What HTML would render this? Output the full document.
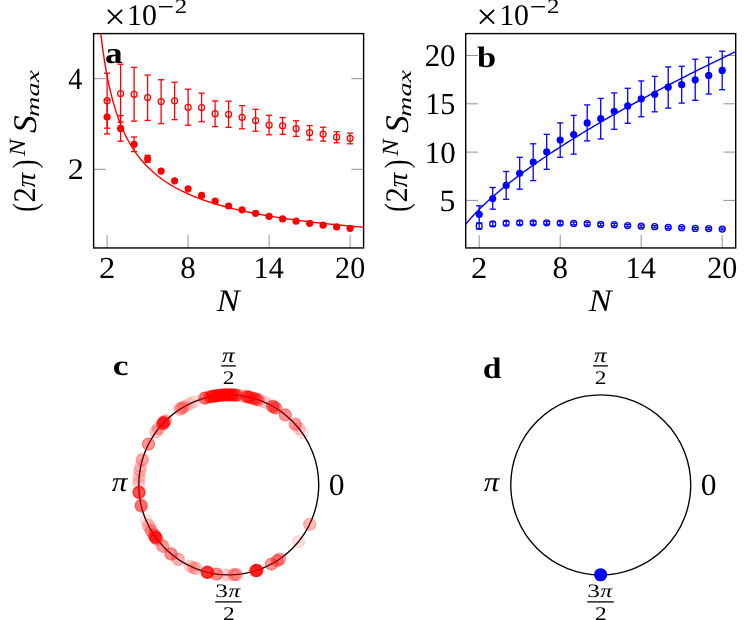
<!DOCTYPE html>
<html><head><meta charset="utf-8"><title>figure</title>
<style>html,body{margin:0;padding:0;background:#fff}svg{display:block;will-change:transform}</style>
</head><body>
<svg width="747" height="620" viewBox="0 0 747 620" font-family='"Liberation Serif", serif' fill="#000" text-rendering="geometricPrecision">
<rect width="747" height="620" fill="#fff"/>
<g id="plot-a">
<line x1="93.6" y1="78.7" x2="105.9" y2="78.7" stroke="#7f7f7f" stroke-width="0.85" />
<line x1="363.6" y1="78.7" x2="351.3" y2="78.7" stroke="#7f7f7f" stroke-width="0.85" />
<line x1="93.6" y1="169.3" x2="105.9" y2="169.3" stroke="#7f7f7f" stroke-width="0.85" />
<line x1="363.6" y1="169.3" x2="351.3" y2="169.3" stroke="#7f7f7f" stroke-width="0.85" />
<line x1="107.1" y1="247.95" x2="107.1" y2="235.15" stroke="#7f7f7f" stroke-width="0.85" />
<line x1="188.1" y1="247.95" x2="188.1" y2="235.15" stroke="#7f7f7f" stroke-width="0.85" />
<line x1="269.1" y1="247.95" x2="269.1" y2="235.15" stroke="#7f7f7f" stroke-width="0.85" />
<line x1="350.1" y1="247.95" x2="350.1" y2="235.15" stroke="#7f7f7f" stroke-width="0.85" />
<rect x="93.6" y="33.6" width="270" height="214.35" fill="none" stroke="#000" stroke-width="1.4"/>
<text transform="translate(98.89 278.1) scale(1.0871 1.0176)" font-size="30">2</text>
<text transform="translate(180.31 278.39) scale(1.0315 1.0370)" font-size="30">8</text>
<text transform="translate(253.52 278.1) scale(1.0112 1.0202)" font-size="30">14</text>
<text transform="translate(335.1 278.29) scale(1.0018 1.0321)" font-size="30">20</text>
<text transform="translate(216.73 310.9) scale(1.1435 1.0483)" font-size="30" font-style="italic">N</text>
<text transform="translate(104.16 28.53) scale(1.2675 1.2295)" font-size="30">×</text>
<text transform="translate(127.06 24.6) scale(0.9962 1.0025)" font-size="30">10</text>
<text transform="translate(157.53 16.49) scale(0.9821 0.9333)" font-size="30">−</text>
<text transform="translate(174.82 13.2) scale(0.8299 0.6851)" font-size="30">2</text>
<g transform="translate(35.3 210.6) rotate(-90)">
<text transform="translate(-1.11 0.58) scale(0.8571 1.1365)" font-size="30">(</text>
<text transform="translate(8.17 0) scale(1.0207 1.0479)" font-size="30">2</text>
<text transform="translate(23.15 -0.28) scale(0.9775 0.9395)" font-size="30" font-style="italic">π</text>
<text transform="translate(42.27 0.55) scale(0.8701 1.1324)" font-size="30">)</text>
<text transform="translate(54.67 -9.9) scale(0.8380 0.7735)" font-size="30" font-style="italic">N</text>
<text transform="translate(77.59 0.37) scale(1.1802 1.1017)" font-size="30" font-style="italic">S</text>
<text transform="translate(93.67 4.01) scale(0.9394 0.6228)" font-size="30" font-style="italic">max</text>
</g>
<text transform="translate(68.34 88.6) scale(0.9391 1.0228)" font-size="30">4</text>
<text transform="translate(67.71 178.9) scale(1.0705 0.9924)" font-size="30">2</text>
<text transform="translate(104.88 63) scale(1.1765 1.0000)" font-size="30" font-weight="bold">a</text>
<clipPath id="ca"><rect x="93.6" y="33.6" width="270" height="214.35"/></clipPath>
<g clip-path="url(#ca)">
<path d="M99.67 23.62 L100.78 33.61 L101.89 42.64 L103 50.84 L104.1 58.34 L105.21 65.22 L106.32 71.56 L107.42 77.43 L108.53 82.87 L109.64 87.94 L110.75 92.67 L111.85 97.1 L112.96 101.26 L114.07 105.17 L115.17 108.86 L116.28 112.34 L117.39 115.63 L118.5 118.76 L119.6 121.73 L120.71 124.55 L121.82 127.23 L122.92 129.79 L124.03 132.24 L125.14 134.58 L126.25 136.82 L127.35 138.96 L128.46 141.02 L129.57 142.99 L130.67 144.89 L131.78 146.72 L132.89 148.47 L134 150.17 L135.1 151.8 L136.21 153.38 L137.32 154.9 L138.42 156.37 L139.53 157.79 L140.64 159.17 L141.75 160.5 L142.85 161.79 L143.96 163.04 L145.07 164.26 L146.17 165.44 L147.28 166.58 L148.39 167.69 L149.5 168.77 L150.6 169.82 L151.71 170.85 L152.82 171.84 L153.92 172.81 L155.03 173.75 L156.14 174.67 L157.24 175.57 L158.35 176.44 L159.46 177.29 L160.57 178.13 L161.67 178.94 L162.78 179.73 L163.89 180.51 L164.99 181.27 L166.1 182.01 L167.21 182.73 L168.32 183.44 L169.42 184.13 L170.53 184.81 L171.64 185.47 L172.74 186.12 L173.85 186.76 L174.96 187.38 L176.07 187.99 L177.17 188.59 L178.28 189.18 L179.39 189.75 L180.49 190.32 L181.6 190.87 L182.71 191.42 L183.82 191.95 L184.92 192.47 L186.03 192.99 L187.14 193.49 L188.24 193.99 L189.35 194.48 L190.46 194.95 L191.57 195.42 L192.67 195.89 L193.78 196.34 L194.89 196.79 L195.99 197.23 L197.1 197.66 L198.21 198.09 L199.32 198.5 L200.42 198.92 L201.53 199.32 L202.64 199.72 L203.74 200.11 L204.85 200.5 L205.96 200.88 L207.06 201.26 L208.17 201.62 L209.28 201.99 L210.39 202.35 L211.49 202.7 L212.6 203.05 L213.71 203.39 L214.81 203.73 L215.92 204.06 L217.03 204.39 L218.14 204.72 L219.24 205.04 L220.35 205.35 L221.46 205.66 L222.56 205.97 L223.67 206.27 L224.78 206.57 L225.89 206.87 L226.99 207.16 L228.1 207.45 L229.21 207.73 L230.31 208.01 L231.42 208.29 L232.53 208.56 L233.64 208.83 L234.74 209.1 L235.85 209.36 L236.96 209.62 L238.06 209.88 L239.17 210.13 L240.28 210.38 L241.39 210.63 L242.49 210.87 L243.6 211.11 L244.71 211.35 L245.81 211.59 L246.92 211.82 L248.03 212.05 L249.14 212.28 L250.24 212.51 L251.35 212.73 L252.46 212.95 L253.56 213.17 L254.67 213.39 L255.78 213.6 L256.89 213.81 L257.99 214.02 L259.1 214.23 L260.21 214.43 L261.31 214.64 L262.42 214.84 L263.53 215.03 L264.63 215.23 L265.74 215.42 L266.85 215.62 L267.96 215.81 L269.06 216 L270.17 216.18 L271.28 216.37 L272.38 216.55 L273.49 216.73 L274.6 216.91 L275.71 217.09 L276.81 217.26 L277.92 217.44 L279.03 217.61 L280.13 217.78 L281.24 217.95 L282.35 218.12 L283.46 218.28 L284.56 218.45 L285.67 218.61 L286.78 218.77 L287.88 218.93 L288.99 219.09 L290.1 219.25 L291.21 219.4 L292.31 219.56 L293.42 219.71 L294.53 219.86 L295.63 220.01 L296.74 220.16 L297.85 220.31 L298.96 220.45 L300.06 220.6 L301.17 220.74 L302.28 220.88 L303.38 221.03 L304.49 221.17 L305.6 221.3 L306.71 221.44 L307.81 221.58 L308.92 221.71 L310.03 221.85 L311.13 221.98 L312.24 222.11 L313.35 222.24 L314.45 222.37 L315.56 222.5 L316.67 222.63 L317.78 222.76 L318.88 222.88 L319.99 223.01 L321.1 223.13 L322.2 223.26 L323.31 223.38 L324.42 223.5 L325.53 223.62 L326.63 223.74 L327.74 223.86 L328.85 223.97 L329.95 224.09 L331.06 224.21 L332.17 224.32 L333.28 224.43 L334.38 224.55 L335.49 224.66 L336.6 224.77 L337.7 224.88 L338.81 224.99 L339.92 225.1 L341.03 225.21 L342.13 225.31 L343.24 225.42 L344.35 225.53 L345.45 225.63 L346.56 225.74 L347.67 225.84 L348.78 225.94 L349.88 226.04 L350.99 226.15 L352.1 226.25 L353.2 226.35 L354.31 226.44 L355.42 226.54 L356.53 226.64 L357.63 226.74 L358.74 226.83 L359.85 226.93 L360.95 227.03 L362.06 227.12 L363.17 227.21 L364.27 227.31" fill="none" stroke="#ff0000" stroke-width="1.4" stroke-linejoin="round"/>
</g>
<line x1="107.1" y1="73.2" x2="107.1" y2="128.2" stroke="#ff0000" stroke-width="1.3" />
<line x1="104" y1="73.2" x2="110.2" y2="73.2" stroke="#ff0000" stroke-width="1.3" />
<line x1="104" y1="128.2" x2="110.2" y2="128.2" stroke="#ff0000" stroke-width="1.3" />
<circle cx="107.1" cy="100.65" r="3.0" fill="none" stroke="#ff0000" stroke-width="1.25"/>
<line x1="120.6" y1="64.2" x2="120.6" y2="122.2" stroke="#ff0000" stroke-width="1.3" />
<line x1="117.5" y1="64.2" x2="123.7" y2="64.2" stroke="#ff0000" stroke-width="1.3" />
<line x1="117.5" y1="122.2" x2="123.7" y2="122.2" stroke="#ff0000" stroke-width="1.3" />
<circle cx="120.6" cy="93.5" r="3.0" fill="none" stroke="#ff0000" stroke-width="1.25"/>
<line x1="134.1" y1="67.4" x2="134.1" y2="121.1" stroke="#ff0000" stroke-width="1.3" />
<line x1="131" y1="67.4" x2="137.2" y2="67.4" stroke="#ff0000" stroke-width="1.3" />
<line x1="131" y1="121.1" x2="137.2" y2="121.1" stroke="#ff0000" stroke-width="1.3" />
<circle cx="134.1" cy="94.3" r="3.0" fill="none" stroke="#ff0000" stroke-width="1.25"/>
<line x1="147.6" y1="75.1" x2="147.6" y2="120.4" stroke="#ff0000" stroke-width="1.3" />
<line x1="144.5" y1="75.1" x2="150.7" y2="75.1" stroke="#ff0000" stroke-width="1.3" />
<line x1="144.5" y1="120.4" x2="150.7" y2="120.4" stroke="#ff0000" stroke-width="1.3" />
<circle cx="147.6" cy="97.6" r="3.0" fill="none" stroke="#ff0000" stroke-width="1.25"/>
<line x1="161.1" y1="79.75" x2="161.1" y2="123.6" stroke="#ff0000" stroke-width="1.3" />
<line x1="158" y1="79.75" x2="164.2" y2="79.75" stroke="#ff0000" stroke-width="1.3" />
<line x1="158" y1="123.6" x2="164.2" y2="123.6" stroke="#ff0000" stroke-width="1.3" />
<circle cx="161.1" cy="101.5" r="3.0" fill="none" stroke="#ff0000" stroke-width="1.25"/>
<line x1="174.6" y1="82.2" x2="174.6" y2="119.7" stroke="#ff0000" stroke-width="1.3" />
<line x1="171.5" y1="82.2" x2="177.7" y2="82.2" stroke="#ff0000" stroke-width="1.3" />
<line x1="171.5" y1="119.7" x2="177.7" y2="119.7" stroke="#ff0000" stroke-width="1.3" />
<circle cx="174.6" cy="100.8" r="3.0" fill="none" stroke="#ff0000" stroke-width="1.25"/>
<line x1="188.1" y1="89.2" x2="188.1" y2="125.2" stroke="#ff0000" stroke-width="1.3" />
<line x1="185" y1="89.2" x2="191.2" y2="89.2" stroke="#ff0000" stroke-width="1.3" />
<line x1="185" y1="125.2" x2="191.2" y2="125.2" stroke="#ff0000" stroke-width="1.3" />
<circle cx="188.1" cy="107.3" r="3.0" fill="none" stroke="#ff0000" stroke-width="1.25"/>
<line x1="201.6" y1="93.2" x2="201.6" y2="121.7" stroke="#ff0000" stroke-width="1.3" />
<line x1="198.5" y1="93.2" x2="204.7" y2="93.2" stroke="#ff0000" stroke-width="1.3" />
<line x1="198.5" y1="121.7" x2="204.7" y2="121.7" stroke="#ff0000" stroke-width="1.3" />
<circle cx="201.6" cy="107.6" r="3.0" fill="none" stroke="#ff0000" stroke-width="1.25"/>
<line x1="215.1" y1="100.9" x2="215.1" y2="126.6" stroke="#ff0000" stroke-width="1.3" />
<line x1="212" y1="100.9" x2="218.2" y2="100.9" stroke="#ff0000" stroke-width="1.3" />
<line x1="212" y1="126.6" x2="218.2" y2="126.6" stroke="#ff0000" stroke-width="1.3" />
<circle cx="215.1" cy="113.7" r="3.0" fill="none" stroke="#ff0000" stroke-width="1.25"/>
<line x1="228.6" y1="101.2" x2="228.6" y2="127.3" stroke="#ff0000" stroke-width="1.3" />
<line x1="225.5" y1="101.2" x2="231.7" y2="101.2" stroke="#ff0000" stroke-width="1.3" />
<line x1="225.5" y1="127.3" x2="231.7" y2="127.3" stroke="#ff0000" stroke-width="1.3" />
<circle cx="228.6" cy="114.3" r="3.0" fill="none" stroke="#ff0000" stroke-width="1.25"/>
<line x1="242.1" y1="105.6" x2="242.1" y2="128.8" stroke="#ff0000" stroke-width="1.3" />
<line x1="239" y1="105.6" x2="245.2" y2="105.6" stroke="#ff0000" stroke-width="1.3" />
<line x1="239" y1="128.8" x2="245.2" y2="128.8" stroke="#ff0000" stroke-width="1.3" />
<circle cx="242.1" cy="117.3" r="3.0" fill="none" stroke="#ff0000" stroke-width="1.25"/>
<line x1="255.6" y1="109.3" x2="255.6" y2="131.2" stroke="#ff0000" stroke-width="1.3" />
<line x1="252.5" y1="109.3" x2="258.7" y2="109.3" stroke="#ff0000" stroke-width="1.3" />
<line x1="252.5" y1="131.2" x2="258.7" y2="131.2" stroke="#ff0000" stroke-width="1.3" />
<circle cx="255.6" cy="120.5" r="3.0" fill="none" stroke="#ff0000" stroke-width="1.25"/>
<line x1="269.1" y1="115.3" x2="269.1" y2="134.8" stroke="#ff0000" stroke-width="1.3" />
<line x1="266" y1="115.3" x2="272.2" y2="115.3" stroke="#ff0000" stroke-width="1.3" />
<line x1="266" y1="134.8" x2="272.2" y2="134.8" stroke="#ff0000" stroke-width="1.3" />
<circle cx="269.1" cy="125" r="3.0" fill="none" stroke="#ff0000" stroke-width="1.25"/>
<line x1="282.6" y1="117.6" x2="282.6" y2="134.3" stroke="#ff0000" stroke-width="1.3" />
<line x1="279.5" y1="117.6" x2="285.7" y2="117.6" stroke="#ff0000" stroke-width="1.3" />
<line x1="279.5" y1="134.3" x2="285.7" y2="134.3" stroke="#ff0000" stroke-width="1.3" />
<circle cx="282.6" cy="125.8" r="3.0" fill="none" stroke="#ff0000" stroke-width="1.25"/>
<line x1="296.1" y1="120.8" x2="296.1" y2="136.4" stroke="#ff0000" stroke-width="1.3" />
<line x1="293" y1="120.8" x2="299.2" y2="120.8" stroke="#ff0000" stroke-width="1.3" />
<line x1="293" y1="136.4" x2="299.2" y2="136.4" stroke="#ff0000" stroke-width="1.3" />
<circle cx="296.1" cy="128.5" r="3.0" fill="none" stroke="#ff0000" stroke-width="1.25"/>
<line x1="309.6" y1="125.6" x2="309.6" y2="139.9" stroke="#ff0000" stroke-width="1.3" />
<line x1="306.5" y1="125.6" x2="312.7" y2="125.6" stroke="#ff0000" stroke-width="1.3" />
<line x1="306.5" y1="139.9" x2="312.7" y2="139.9" stroke="#ff0000" stroke-width="1.3" />
<circle cx="309.6" cy="132.7" r="3.0" fill="none" stroke="#ff0000" stroke-width="1.25"/>
<line x1="323.1" y1="127.2" x2="323.1" y2="141.1" stroke="#ff0000" stroke-width="1.3" />
<line x1="320" y1="127.2" x2="326.2" y2="127.2" stroke="#ff0000" stroke-width="1.3" />
<line x1="320" y1="141.1" x2="326.2" y2="141.1" stroke="#ff0000" stroke-width="1.3" />
<circle cx="323.1" cy="134" r="3.0" fill="none" stroke="#ff0000" stroke-width="1.25"/>
<line x1="336.6" y1="131.7" x2="336.6" y2="142.8" stroke="#ff0000" stroke-width="1.3" />
<line x1="333.5" y1="131.7" x2="339.7" y2="131.7" stroke="#ff0000" stroke-width="1.3" />
<line x1="333.5" y1="142.8" x2="339.7" y2="142.8" stroke="#ff0000" stroke-width="1.3" />
<circle cx="336.6" cy="137.2" r="3.0" fill="none" stroke="#ff0000" stroke-width="1.25"/>
<line x1="350.1" y1="133.1" x2="350.1" y2="143.8" stroke="#ff0000" stroke-width="1.3" />
<line x1="347" y1="133.1" x2="353.2" y2="133.1" stroke="#ff0000" stroke-width="1.3" />
<line x1="347" y1="143.8" x2="353.2" y2="143.8" stroke="#ff0000" stroke-width="1.3" />
<circle cx="350.1" cy="138.3" r="3.0" fill="none" stroke="#ff0000" stroke-width="1.25"/>
<line x1="107.1" y1="100" x2="107.1" y2="134" stroke="#ff0000" stroke-width="1.3" />
<line x1="104" y1="100" x2="110.2" y2="100" stroke="#ff0000" stroke-width="1.3" />
<line x1="104" y1="134" x2="110.2" y2="134" stroke="#ff0000" stroke-width="1.3" />
<circle cx="107.1" cy="117" r="3.6" fill="#ff0000"/>
<line x1="120.6" y1="115.6" x2="120.6" y2="141.2" stroke="#ff0000" stroke-width="1.3" />
<line x1="117.5" y1="115.6" x2="123.7" y2="115.6" stroke="#ff0000" stroke-width="1.3" />
<line x1="117.5" y1="141.2" x2="123.7" y2="141.2" stroke="#ff0000" stroke-width="1.3" />
<circle cx="120.6" cy="128.4" r="3.6" fill="#ff0000"/>
<line x1="134.1" y1="137" x2="134.1" y2="151.6" stroke="#ff0000" stroke-width="1.3" />
<line x1="131" y1="137" x2="137.2" y2="137" stroke="#ff0000" stroke-width="1.3" />
<line x1="131" y1="151.6" x2="137.2" y2="151.6" stroke="#ff0000" stroke-width="1.3" />
<circle cx="134.1" cy="144.3" r="3.6" fill="#ff0000"/>
<line x1="147.6" y1="155.3" x2="147.6" y2="162.3" stroke="#ff0000" stroke-width="1.3" />
<line x1="144.5" y1="155.3" x2="150.7" y2="155.3" stroke="#ff0000" stroke-width="1.3" />
<line x1="144.5" y1="162.3" x2="150.7" y2="162.3" stroke="#ff0000" stroke-width="1.3" />
<circle cx="147.6" cy="158.8" r="3.6" fill="#ff0000"/>
<circle cx="161.1" cy="171.1" r="3.6" fill="#ff0000"/>
<circle cx="174.6" cy="180.8" r="3.6" fill="#ff0000"/>
<circle cx="188.1" cy="188.8" r="3.6" fill="#ff0000"/>
<circle cx="201.6" cy="195.4" r="3.6" fill="#ff0000"/>
<circle cx="215.1" cy="201.2" r="3.6" fill="#ff0000"/>
<circle cx="228.6" cy="206" r="3.6" fill="#ff0000"/>
<circle cx="242.1" cy="209.8" r="3.6" fill="#ff0000"/>
<circle cx="255.6" cy="213.3" r="3.6" fill="#ff0000"/>
<circle cx="269.1" cy="216.3" r="3.6" fill="#ff0000"/>
<circle cx="282.6" cy="218.9" r="3.6" fill="#ff0000"/>
<circle cx="296.1" cy="221.2" r="3.6" fill="#ff0000"/>
<circle cx="309.6" cy="223.3" r="3.6" fill="#ff0000"/>
<circle cx="323.1" cy="225.2" r="3.6" fill="#ff0000"/>
<circle cx="336.6" cy="226.9" r="3.6" fill="#ff0000"/>
<circle cx="350.1" cy="228.3" r="3.6" fill="#ff0000"/>
</g>
<g id="plot-b">
<line x1="465.7" y1="55.5" x2="478" y2="55.5" stroke="#7f7f7f" stroke-width="0.85" />
<line x1="735.7" y1="55.5" x2="723.4" y2="55.5" stroke="#7f7f7f" stroke-width="0.85" />
<line x1="465.7" y1="103.8" x2="478" y2="103.8" stroke="#7f7f7f" stroke-width="0.85" />
<line x1="735.7" y1="103.8" x2="723.4" y2="103.8" stroke="#7f7f7f" stroke-width="0.85" />
<line x1="465.7" y1="152.1" x2="478" y2="152.1" stroke="#7f7f7f" stroke-width="0.85" />
<line x1="735.7" y1="152.1" x2="723.4" y2="152.1" stroke="#7f7f7f" stroke-width="0.85" />
<line x1="465.7" y1="200.4" x2="478" y2="200.4" stroke="#7f7f7f" stroke-width="0.85" />
<line x1="735.7" y1="200.4" x2="723.4" y2="200.4" stroke="#7f7f7f" stroke-width="0.85" />
<line x1="479.2" y1="247.95" x2="479.2" y2="235.15" stroke="#7f7f7f" stroke-width="0.85" />
<line x1="560.2" y1="247.95" x2="560.2" y2="235.15" stroke="#7f7f7f" stroke-width="0.85" />
<line x1="641.2" y1="247.95" x2="641.2" y2="235.15" stroke="#7f7f7f" stroke-width="0.85" />
<line x1="722.2" y1="247.95" x2="722.2" y2="235.15" stroke="#7f7f7f" stroke-width="0.85" />
<rect x="465.7" y="33.6" width="270" height="214.35" fill="none" stroke="#000" stroke-width="1.4"/>
<text transform="translate(470.99 278.1) scale(1.0871 1.0176)" font-size="30">2</text>
<text transform="translate(552.41 278.39) scale(1.0315 1.0370)" font-size="30">8</text>
<text transform="translate(625.62 278.1) scale(1.0112 1.0202)" font-size="30">14</text>
<text transform="translate(707.2 278.29) scale(1.0018 1.0321)" font-size="30">20</text>
<text transform="translate(588.83 310.9) scale(1.1435 1.0483)" font-size="30" font-style="italic">N</text>
<text transform="translate(476.26 28.53) scale(1.2675 1.2295)" font-size="30">×</text>
<text transform="translate(499.16 24.6) scale(0.9962 1.0025)" font-size="30">10</text>
<text transform="translate(529.63 16.49) scale(0.9821 0.9333)" font-size="30">−</text>
<text transform="translate(546.92 13.2) scale(0.8299 0.6851)" font-size="30">2</text>
<g transform="translate(407.4 210.6) rotate(-90)">
<text transform="translate(-1.11 0.58) scale(0.8571 1.1365)" font-size="30">(</text>
<text transform="translate(8.17 0) scale(1.0207 1.0479)" font-size="30">2</text>
<text transform="translate(23.15 -0.28) scale(0.9775 0.9395)" font-size="30" font-style="italic">π</text>
<text transform="translate(42.27 0.55) scale(0.8701 1.1324)" font-size="30">)</text>
<text transform="translate(54.67 -9.9) scale(0.8380 0.7735)" font-size="30" font-style="italic">N</text>
<text transform="translate(77.59 0.37) scale(1.1802 1.1017)" font-size="30" font-style="italic">S</text>
<text transform="translate(93.67 4.01) scale(0.9394 0.6228)" font-size="30" font-style="italic">max</text>
</g>
<text transform="translate(424.66 66.28) scale(1.0309 1.0568)" font-size="30">20</text>
<text transform="translate(425.14 114.49) scale(1.0038 1.0249)" font-size="30">15</text>
<text transform="translate(424.67 162.79) scale(1.0305 1.0321)" font-size="30">10</text>
<text transform="translate(439.45 211.09) scale(1.0579 1.0326)" font-size="30">5</text>
<text transform="translate(477.04 66.5) scale(1.1495 0.9858)" font-size="30" font-weight="bold">b</text>
<clipPath id="cb"><rect x="465.7" y="33.6" width="270" height="214.35"/></clipPath>
<g clip-path="url(#cb)">
<path d="M465.03 225.08 L465.28 224.76 L465.53 224.44 L465.8 224.11 L466.06 223.78 L466.34 223.45 L466.62 223.11 L466.9 222.77 L467.19 222.42 L467.48 222.06 L467.78 221.71 L468.09 221.34 L468.4 220.98 L468.72 220.6 L469.05 220.23 L469.38 219.84 L469.72 219.45 L470.06 219.06 L470.41 218.66 L470.77 218.26 L471.14 217.85 L471.51 217.44 L471.89 217.02 L472.28 216.59 L472.67 216.16 L473.07 215.72 L473.49 215.28 L473.9 214.83 L474.33 214.37 L474.77 213.91 L475.21 213.44 L475.66 212.97 L476.13 212.49 L476.6 212 L477.08 211.51 L477.57 211.01 L478.06 210.5 L478.57 209.99 L479.09 209.47 L479.62 208.94 L480.16 208.41 L480.71 207.87 L481.27 207.32 L481.84 206.76 L482.43 206.2 L483.02 205.63 L483.63 205.05 L484.25 204.46 L484.88 203.87 L485.52 203.26 L486.18 202.65 L486.85 202.03 L487.53 201.41 L488.22 200.77 L488.93 200.13 L489.65 199.47 L490.39 198.81 L491.14 198.14 L491.91 197.46 L492.69 196.77 L493.49 196.07 L494.3 195.37 L495.13 194.65 L495.97 193.92 L496.83 193.19 L497.71 192.44 L498.61 191.69 L499.52 190.92 L500.45 190.14 L501.4 189.36 L502.37 188.56 L503.36 187.75 L504.36 186.93 L505.39 186.1 L506.43 185.26 L507.5 184.41 L508.59 183.54 L509.7 182.67 L510.83 181.78 L511.98 180.88 L513.16 179.97 L514.36 179.04 L515.58 178.11 L516.83 177.16 L518.1 176.2 L519.4 175.22 L520.72 174.23 L522.07 173.23 L523.44 172.22 L524.85 171.19 L526.28 170.15 L527.73 169.09 L529.22 168.02 L530.74 166.94 L532.28 165.84 L533.86 164.73 L535.46 163.6 L537.1 162.45 L538.77 161.29 L540.48 160.12 L542.21 158.93 L543.98 157.72 L545.79 156.5 L547.63 155.26 L549.51 154 L551.42 152.73 L553.38 151.44 L555.37 150.13 L557.4 148.81 L559.47 147.47 L561.58 146.11 L563.73 144.73 L565.92 143.33 L568.16 141.91 L570.44 140.48 L572.77 139.02 L575.14 137.55 L577.56 136.05 L580.03 134.54 L582.54 133.01 L585.11 131.45 L587.72 129.87 L590.39 128.28 L593.11 126.66 L595.88 125.02 L598.71 123.36 L601.59 121.67 L604.53 119.96 L607.53 118.23 L610.58 116.48 L613.7 114.7 L616.88 112.9 L620.12 111.08 L623.42 109.23 L626.79 107.35 L630.23 105.45 L633.73 103.53 L637.3 101.57 L640.94 99.6 L644.66 97.59 L648.45 95.56 L652.31 93.5 L656.24 91.42 L660.26 89.3 L664.35 87.16 L668.53 84.99 L672.78 82.79 L677.12 80.56 L681.55 78.3 L686.06 76.01 L690.66 73.69 L695.36 71.34 L700.14 68.95 L705.02 66.54 L709.99 64.09 L715.07 61.61 L720.24 59.09 L725.51 56.54 L730.89 53.96 L736.38 51.34" fill="none" stroke="#0000ff" stroke-width="1.4" stroke-linejoin="round"/>
</g>
<line x1="479.2" y1="223.4" x2="479.2" y2="229" stroke="#0000ff" stroke-width="1.3" />
<line x1="476.1" y1="223.4" x2="482.3" y2="223.4" stroke="#0000ff" stroke-width="1.3" />
<line x1="476.1" y1="229" x2="482.3" y2="229" stroke="#0000ff" stroke-width="1.3" />
<circle cx="479.2" cy="226.2" r="3.0" fill="none" stroke="#0000ff" stroke-width="1.25"/>
<line x1="492.7" y1="221.8" x2="492.7" y2="226" stroke="#0000ff" stroke-width="1.3" />
<line x1="489.6" y1="221.8" x2="495.8" y2="221.8" stroke="#0000ff" stroke-width="1.3" />
<line x1="489.6" y1="226" x2="495.8" y2="226" stroke="#0000ff" stroke-width="1.3" />
<circle cx="492.7" cy="223.9" r="3.0" fill="none" stroke="#0000ff" stroke-width="1.25"/>
<line x1="506.2" y1="221.3" x2="506.2" y2="225.1" stroke="#0000ff" stroke-width="1.3" />
<line x1="503.1" y1="221.3" x2="509.3" y2="221.3" stroke="#0000ff" stroke-width="1.3" />
<line x1="503.1" y1="225.1" x2="509.3" y2="225.1" stroke="#0000ff" stroke-width="1.3" />
<circle cx="506.2" cy="223.2" r="3.0" fill="none" stroke="#0000ff" stroke-width="1.25"/>
<line x1="519.7" y1="221" x2="519.7" y2="224.6" stroke="#0000ff" stroke-width="1.3" />
<line x1="516.6" y1="221" x2="522.8" y2="221" stroke="#0000ff" stroke-width="1.3" />
<line x1="516.6" y1="224.6" x2="522.8" y2="224.6" stroke="#0000ff" stroke-width="1.3" />
<circle cx="519.7" cy="222.8" r="3.0" fill="none" stroke="#0000ff" stroke-width="1.25"/>
<line x1="533.2" y1="221.2" x2="533.2" y2="224.4" stroke="#0000ff" stroke-width="1.3" />
<line x1="530.1" y1="221.2" x2="536.3" y2="221.2" stroke="#0000ff" stroke-width="1.3" />
<line x1="530.1" y1="224.4" x2="536.3" y2="224.4" stroke="#0000ff" stroke-width="1.3" />
<circle cx="533.2" cy="222.8" r="3.0" fill="none" stroke="#0000ff" stroke-width="1.25"/>
<line x1="546.7" y1="221.3" x2="546.7" y2="224.3" stroke="#0000ff" stroke-width="1.3" />
<line x1="543.6" y1="221.3" x2="549.8" y2="221.3" stroke="#0000ff" stroke-width="1.3" />
<line x1="543.6" y1="224.3" x2="549.8" y2="224.3" stroke="#0000ff" stroke-width="1.3" />
<circle cx="546.7" cy="222.8" r="3.0" fill="none" stroke="#0000ff" stroke-width="1.25"/>
<line x1="560.2" y1="221.5" x2="560.2" y2="224.5" stroke="#0000ff" stroke-width="1.3" />
<line x1="557.1" y1="221.5" x2="563.3" y2="221.5" stroke="#0000ff" stroke-width="1.3" />
<line x1="557.1" y1="224.5" x2="563.3" y2="224.5" stroke="#0000ff" stroke-width="1.3" />
<circle cx="560.2" cy="223" r="3.0" fill="none" stroke="#0000ff" stroke-width="1.25"/>
<line x1="573.7" y1="222" x2="573.7" y2="224.8" stroke="#0000ff" stroke-width="1.3" />
<line x1="570.6" y1="222" x2="576.8" y2="222" stroke="#0000ff" stroke-width="1.3" />
<line x1="570.6" y1="224.8" x2="576.8" y2="224.8" stroke="#0000ff" stroke-width="1.3" />
<circle cx="573.7" cy="223.4" r="3.0" fill="none" stroke="#0000ff" stroke-width="1.25"/>
<line x1="587.2" y1="222.3" x2="587.2" y2="225.1" stroke="#0000ff" stroke-width="1.3" />
<line x1="584.1" y1="222.3" x2="590.3" y2="222.3" stroke="#0000ff" stroke-width="1.3" />
<line x1="584.1" y1="225.1" x2="590.3" y2="225.1" stroke="#0000ff" stroke-width="1.3" />
<circle cx="587.2" cy="223.7" r="3.0" fill="none" stroke="#0000ff" stroke-width="1.25"/>
<line x1="600.7" y1="223.1" x2="600.7" y2="225.7" stroke="#0000ff" stroke-width="1.3" />
<line x1="597.6" y1="223.1" x2="603.8" y2="223.1" stroke="#0000ff" stroke-width="1.3" />
<line x1="597.6" y1="225.7" x2="603.8" y2="225.7" stroke="#0000ff" stroke-width="1.3" />
<circle cx="600.7" cy="224.4" r="3.0" fill="none" stroke="#0000ff" stroke-width="1.25"/>
<line x1="614.2" y1="223.4" x2="614.2" y2="226" stroke="#0000ff" stroke-width="1.3" />
<line x1="611.1" y1="223.4" x2="617.3" y2="223.4" stroke="#0000ff" stroke-width="1.3" />
<line x1="611.1" y1="226" x2="617.3" y2="226" stroke="#0000ff" stroke-width="1.3" />
<circle cx="614.2" cy="224.7" r="3.0" fill="none" stroke="#0000ff" stroke-width="1.25"/>
<line x1="627.7" y1="224.4" x2="627.7" y2="226.8" stroke="#0000ff" stroke-width="1.3" />
<line x1="624.6" y1="224.4" x2="630.8" y2="224.4" stroke="#0000ff" stroke-width="1.3" />
<line x1="624.6" y1="226.8" x2="630.8" y2="226.8" stroke="#0000ff" stroke-width="1.3" />
<circle cx="627.7" cy="225.6" r="3.0" fill="none" stroke="#0000ff" stroke-width="1.25"/>
<line x1="641.2" y1="225" x2="641.2" y2="227.4" stroke="#0000ff" stroke-width="1.3" />
<line x1="638.1" y1="225" x2="644.3" y2="225" stroke="#0000ff" stroke-width="1.3" />
<line x1="638.1" y1="227.4" x2="644.3" y2="227.4" stroke="#0000ff" stroke-width="1.3" />
<circle cx="641.2" cy="226.2" r="3.0" fill="none" stroke="#0000ff" stroke-width="1.25"/>
<line x1="654.7" y1="225.6" x2="654.7" y2="227.8" stroke="#0000ff" stroke-width="1.3" />
<line x1="651.6" y1="225.6" x2="657.8" y2="225.6" stroke="#0000ff" stroke-width="1.3" />
<line x1="651.6" y1="227.8" x2="657.8" y2="227.8" stroke="#0000ff" stroke-width="1.3" />
<circle cx="654.7" cy="226.7" r="3.0" fill="none" stroke="#0000ff" stroke-width="1.25"/>
<line x1="668.2" y1="226.2" x2="668.2" y2="228.4" stroke="#0000ff" stroke-width="1.3" />
<line x1="665.1" y1="226.2" x2="671.3" y2="226.2" stroke="#0000ff" stroke-width="1.3" />
<line x1="665.1" y1="228.4" x2="671.3" y2="228.4" stroke="#0000ff" stroke-width="1.3" />
<circle cx="668.2" cy="227.3" r="3.0" fill="none" stroke="#0000ff" stroke-width="1.25"/>
<line x1="681.7" y1="226.6" x2="681.7" y2="228.8" stroke="#0000ff" stroke-width="1.3" />
<line x1="678.6" y1="226.6" x2="684.8" y2="226.6" stroke="#0000ff" stroke-width="1.3" />
<line x1="678.6" y1="228.8" x2="684.8" y2="228.8" stroke="#0000ff" stroke-width="1.3" />
<circle cx="681.7" cy="227.7" r="3.0" fill="none" stroke="#0000ff" stroke-width="1.25"/>
<line x1="695.2" y1="227.4" x2="695.2" y2="229.4" stroke="#0000ff" stroke-width="1.3" />
<line x1="692.1" y1="227.4" x2="698.3" y2="227.4" stroke="#0000ff" stroke-width="1.3" />
<line x1="692.1" y1="229.4" x2="698.3" y2="229.4" stroke="#0000ff" stroke-width="1.3" />
<circle cx="695.2" cy="228.4" r="3.0" fill="none" stroke="#0000ff" stroke-width="1.25"/>
<line x1="708.7" y1="227.6" x2="708.7" y2="229.6" stroke="#0000ff" stroke-width="1.3" />
<line x1="705.6" y1="227.6" x2="711.8" y2="227.6" stroke="#0000ff" stroke-width="1.3" />
<line x1="705.6" y1="229.6" x2="711.8" y2="229.6" stroke="#0000ff" stroke-width="1.3" />
<circle cx="708.7" cy="228.6" r="3.0" fill="none" stroke="#0000ff" stroke-width="1.25"/>
<line x1="722.2" y1="228" x2="722.2" y2="230" stroke="#0000ff" stroke-width="1.3" />
<line x1="719.1" y1="228" x2="725.3" y2="228" stroke="#0000ff" stroke-width="1.3" />
<line x1="719.1" y1="230" x2="725.3" y2="230" stroke="#0000ff" stroke-width="1.3" />
<circle cx="722.2" cy="229" r="3.0" fill="none" stroke="#0000ff" stroke-width="1.25"/>
<line x1="479.2" y1="205.8" x2="479.2" y2="223" stroke="#0000ff" stroke-width="1.3" />
<line x1="476.1" y1="205.8" x2="482.3" y2="205.8" stroke="#0000ff" stroke-width="1.3" />
<line x1="476.1" y1="223" x2="482.3" y2="223" stroke="#0000ff" stroke-width="1.3" />
<circle cx="479.2" cy="214.3" r="3.6" fill="#0000ff"/>
<line x1="492.7" y1="187.5" x2="492.7" y2="209.2" stroke="#0000ff" stroke-width="1.3" />
<line x1="489.6" y1="187.5" x2="495.8" y2="187.5" stroke="#0000ff" stroke-width="1.3" />
<line x1="489.6" y1="209.2" x2="495.8" y2="209.2" stroke="#0000ff" stroke-width="1.3" />
<circle cx="492.7" cy="198.6" r="3.6" fill="#0000ff"/>
<line x1="506.2" y1="171.5" x2="506.2" y2="199.3" stroke="#0000ff" stroke-width="1.3" />
<line x1="503.1" y1="171.5" x2="509.3" y2="171.5" stroke="#0000ff" stroke-width="1.3" />
<line x1="503.1" y1="199.3" x2="509.3" y2="199.3" stroke="#0000ff" stroke-width="1.3" />
<circle cx="506.2" cy="185.4" r="3.6" fill="#0000ff"/>
<line x1="519.7" y1="157.3" x2="519.7" y2="189.2" stroke="#0000ff" stroke-width="1.3" />
<line x1="516.6" y1="157.3" x2="522.8" y2="157.3" stroke="#0000ff" stroke-width="1.3" />
<line x1="516.6" y1="189.2" x2="522.8" y2="189.2" stroke="#0000ff" stroke-width="1.3" />
<circle cx="519.7" cy="173.25" r="3.6" fill="#0000ff"/>
<line x1="533.2" y1="143.8" x2="533.2" y2="180.6" stroke="#0000ff" stroke-width="1.3" />
<line x1="530.1" y1="143.8" x2="536.3" y2="143.8" stroke="#0000ff" stroke-width="1.3" />
<line x1="530.1" y1="180.6" x2="536.3" y2="180.6" stroke="#0000ff" stroke-width="1.3" />
<circle cx="533.2" cy="162" r="3.6" fill="#0000ff"/>
<line x1="546.7" y1="134.3" x2="546.7" y2="169.3" stroke="#0000ff" stroke-width="1.3" />
<line x1="543.6" y1="134.3" x2="549.8" y2="134.3" stroke="#0000ff" stroke-width="1.3" />
<line x1="543.6" y1="169.3" x2="549.8" y2="169.3" stroke="#0000ff" stroke-width="1.3" />
<circle cx="546.7" cy="151.9" r="3.6" fill="#0000ff"/>
<line x1="560.2" y1="122.9" x2="560.2" y2="157.3" stroke="#0000ff" stroke-width="1.3" />
<line x1="557.1" y1="122.9" x2="563.3" y2="122.9" stroke="#0000ff" stroke-width="1.3" />
<line x1="557.1" y1="157.3" x2="563.3" y2="157.3" stroke="#0000ff" stroke-width="1.3" />
<circle cx="560.2" cy="140.1" r="3.6" fill="#0000ff"/>
<line x1="573.7" y1="115.4" x2="573.7" y2="154.1" stroke="#0000ff" stroke-width="1.3" />
<line x1="570.6" y1="115.4" x2="576.8" y2="115.4" stroke="#0000ff" stroke-width="1.3" />
<line x1="570.6" y1="154.1" x2="576.8" y2="154.1" stroke="#0000ff" stroke-width="1.3" />
<circle cx="573.7" cy="134.5" r="3.6" fill="#0000ff"/>
<line x1="587.2" y1="104.9" x2="587.2" y2="140.9" stroke="#0000ff" stroke-width="1.3" />
<line x1="584.1" y1="104.9" x2="590.3" y2="104.9" stroke="#0000ff" stroke-width="1.3" />
<line x1="584.1" y1="140.9" x2="590.3" y2="140.9" stroke="#0000ff" stroke-width="1.3" />
<circle cx="587.2" cy="122.9" r="3.6" fill="#0000ff"/>
<line x1="600.7" y1="98.4" x2="600.7" y2="139" stroke="#0000ff" stroke-width="1.3" />
<line x1="597.6" y1="98.4" x2="603.8" y2="98.4" stroke="#0000ff" stroke-width="1.3" />
<line x1="597.6" y1="139" x2="603.8" y2="139" stroke="#0000ff" stroke-width="1.3" />
<circle cx="600.7" cy="118.7" r="3.6" fill="#0000ff"/>
<line x1="614.2" y1="92.9" x2="614.2" y2="129.3" stroke="#0000ff" stroke-width="1.3" />
<line x1="611.1" y1="92.9" x2="617.3" y2="92.9" stroke="#0000ff" stroke-width="1.3" />
<line x1="611.1" y1="129.3" x2="617.3" y2="129.3" stroke="#0000ff" stroke-width="1.3" />
<circle cx="614.2" cy="111.3" r="3.6" fill="#0000ff"/>
<line x1="627.7" y1="88.3" x2="627.7" y2="123.3" stroke="#0000ff" stroke-width="1.3" />
<line x1="624.6" y1="88.3" x2="630.8" y2="88.3" stroke="#0000ff" stroke-width="1.3" />
<line x1="624.6" y1="123.3" x2="630.8" y2="123.3" stroke="#0000ff" stroke-width="1.3" />
<circle cx="627.7" cy="105.9" r="3.6" fill="#0000ff"/>
<line x1="641.2" y1="80.95" x2="641.2" y2="116.75" stroke="#0000ff" stroke-width="1.3" />
<line x1="638.1" y1="80.95" x2="644.3" y2="80.95" stroke="#0000ff" stroke-width="1.3" />
<line x1="638.1" y1="116.75" x2="644.3" y2="116.75" stroke="#0000ff" stroke-width="1.3" />
<circle cx="641.2" cy="98.95" r="3.6" fill="#0000ff"/>
<line x1="654.7" y1="76.4" x2="654.7" y2="111.8" stroke="#0000ff" stroke-width="1.3" />
<line x1="651.6" y1="76.4" x2="657.8" y2="76.4" stroke="#0000ff" stroke-width="1.3" />
<line x1="651.6" y1="111.8" x2="657.8" y2="111.8" stroke="#0000ff" stroke-width="1.3" />
<circle cx="654.7" cy="94.3" r="3.6" fill="#0000ff"/>
<line x1="668.2" y1="66.9" x2="668.2" y2="108.1" stroke="#0000ff" stroke-width="1.3" />
<line x1="665.1" y1="66.9" x2="671.3" y2="66.9" stroke="#0000ff" stroke-width="1.3" />
<line x1="665.1" y1="108.1" x2="671.3" y2="108.1" stroke="#0000ff" stroke-width="1.3" />
<circle cx="668.2" cy="87.2" r="3.6" fill="#0000ff"/>
<line x1="681.7" y1="66.3" x2="681.7" y2="103.1" stroke="#0000ff" stroke-width="1.3" />
<line x1="678.6" y1="66.3" x2="684.8" y2="66.3" stroke="#0000ff" stroke-width="1.3" />
<line x1="678.6" y1="103.1" x2="684.8" y2="103.1" stroke="#0000ff" stroke-width="1.3" />
<circle cx="681.7" cy="84.7" r="3.6" fill="#0000ff"/>
<line x1="695.2" y1="59.2" x2="695.2" y2="100.3" stroke="#0000ff" stroke-width="1.3" />
<line x1="692.1" y1="59.2" x2="698.3" y2="59.2" stroke="#0000ff" stroke-width="1.3" />
<line x1="692.1" y1="100.3" x2="698.3" y2="100.3" stroke="#0000ff" stroke-width="1.3" />
<circle cx="695.2" cy="79.8" r="3.6" fill="#0000ff"/>
<line x1="708.7" y1="57.3" x2="708.7" y2="94" stroke="#0000ff" stroke-width="1.3" />
<line x1="705.6" y1="57.3" x2="711.8" y2="57.3" stroke="#0000ff" stroke-width="1.3" />
<line x1="705.6" y1="94" x2="711.8" y2="94" stroke="#0000ff" stroke-width="1.3" />
<circle cx="708.7" cy="75.4" r="3.6" fill="#0000ff"/>
<line x1="722.2" y1="51.2" x2="722.2" y2="89.7" stroke="#0000ff" stroke-width="1.3" />
<line x1="719.1" y1="51.2" x2="725.3" y2="51.2" stroke="#0000ff" stroke-width="1.3" />
<line x1="719.1" y1="89.7" x2="725.3" y2="89.7" stroke="#0000ff" stroke-width="1.3" />
<circle cx="722.2" cy="70.4" r="3.6" fill="#0000ff"/>
</g>
<g id="panel-c">
<circle cx="228.75" cy="484.85" r="90.0" fill="none" stroke="#000" stroke-width="1.35"/>
<text transform="translate(328.69 494.89) scale(1.0551 1.0272)" font-size="30">0</text>
<text transform="translate(111.74 491.22) scale(1.0354 0.9253)" font-size="30" font-style="italic">π</text>
<text transform="translate(221.97 361.6) scale(0.8360 0.6833)" font-size="30" font-style="italic">π</text>
<line x1="221.2" y1="365.9" x2="235.9" y2="365.9" stroke="#000" stroke-width="1.3" />
<text transform="translate(222.79 383.5) scale(0.7801 0.6398)" font-size="30">2</text>
<text transform="translate(215.37 596.91) scale(0.8468 0.6352)" font-size="30">3</text>
<text transform="translate(228.48 596.72) scale(0.7781 0.6121)" font-size="30" font-style="italic">π</text>
<line x1="215.2" y1="601.9" x2="241.8" y2="601.9" stroke="#000" stroke-width="1.3" />
<text transform="translate(222.89 620.2) scale(0.7801 0.6448)" font-size="30">2</text>
<text transform="translate(112.76 374.71) scale(1.1826 0.9619)" font-size="30" font-weight="bold">c</text>
<circle cx="309.64" cy="524.3" r="6.05" fill="#ff0000" fill-opacity="0.28" stroke="#ff0000" stroke-opacity="0.28" stroke-width="1.1"/>
<circle cx="298.59" cy="541.61" r="6.05" fill="#ff0000" fill-opacity="0.12" stroke="#ff0000" stroke-opacity="0.12" stroke-width="1.1"/>
<circle cx="279.6" cy="559.11" r="6.05" fill="#ff0000" fill-opacity="0.34" stroke="#ff0000" stroke-opacity="0.34" stroke-width="1.1"/>
<circle cx="277.24" cy="560.67" r="6.05" fill="#ff0000" fill-opacity="0.34" stroke="#ff0000" stroke-opacity="0.34" stroke-width="1.1"/>
<circle cx="271.42" cy="564.09" r="6.05" fill="#ff0000" fill-opacity="0.42" stroke="#ff0000" stroke-opacity="0.42" stroke-width="1.1"/>
<circle cx="256.56" cy="570.45" r="6.05" fill="#ff0000" fill-opacity="0.55" stroke="#ff0000" stroke-opacity="0.55" stroke-width="1.1"/>
<circle cx="255.66" cy="570.73" r="6.05" fill="#ff0000" fill-opacity="0.55" stroke="#ff0000" stroke-opacity="0.55" stroke-width="1.1"/>
<circle cx="257.16" cy="570.25" r="6.05" fill="#ff0000" fill-opacity="0.4" stroke="#ff0000" stroke-opacity="0.4" stroke-width="1.1"/>
<circle cx="236.75" cy="574.49" r="6.05" fill="#ff0000" fill-opacity="0.2" stroke="#ff0000" stroke-opacity="0.2" stroke-width="1.1"/>
<circle cx="235.18" cy="574.62" r="6.05" fill="#ff0000" fill-opacity="0.2" stroke="#ff0000" stroke-opacity="0.2" stroke-width="1.1"/>
<circle cx="233.62" cy="574.72" r="6.05" fill="#ff0000" fill-opacity="0.2" stroke="#ff0000" stroke-opacity="0.2" stroke-width="1.1"/>
<circle cx="227.81" cy="574.85" r="6.05" fill="#ff0000" fill-opacity="0.1" stroke="#ff0000" stroke-opacity="0.1" stroke-width="1.1"/>
<circle cx="224.2" cy="574.73" r="6.05" fill="#ff0000" fill-opacity="0.1" stroke="#ff0000" stroke-opacity="0.1" stroke-width="1.1"/>
<circle cx="216.38" cy="574" r="6.05" fill="#ff0000" fill-opacity="0.45" stroke="#ff0000" stroke-opacity="0.45" stroke-width="1.1"/>
<circle cx="207.74" cy="572.36" r="6.05" fill="#ff0000" fill-opacity="0.55" stroke="#ff0000" stroke-opacity="0.55" stroke-width="1.1"/>
<circle cx="207.13" cy="572.21" r="6.05" fill="#ff0000" fill-opacity="0.55" stroke="#ff0000" stroke-opacity="0.55" stroke-width="1.1"/>
<circle cx="195.76" cy="568.59" r="6.05" fill="#ff0000" fill-opacity="0.2" stroke="#ff0000" stroke-opacity="0.2" stroke-width="1.1"/>
<circle cx="193.3" cy="567.57" r="6.05" fill="#ff0000" fill-opacity="0.2" stroke="#ff0000" stroke-opacity="0.2" stroke-width="1.1"/>
<circle cx="190" cy="566.08" r="6.05" fill="#ff0000" fill-opacity="0.16" stroke="#ff0000" stroke-opacity="0.16" stroke-width="1.1"/>
<circle cx="178.29" cy="559.38" r="6.05" fill="#ff0000" fill-opacity="0.3" stroke="#ff0000" stroke-opacity="0.3" stroke-width="1.1"/>
<circle cx="171.26" cy="554.1" r="6.05" fill="#ff0000" fill-opacity="0.38" stroke="#ff0000" stroke-opacity="0.38" stroke-width="1.1"/>
<circle cx="169.7" cy="552.77" r="6.05" fill="#ff0000" fill-opacity="0.12" stroke="#ff0000" stroke-opacity="0.12" stroke-width="1.1"/>
<circle cx="163.04" cy="546.34" r="6.05" fill="#ff0000" fill-opacity="0.3" stroke="#ff0000" stroke-opacity="0.3" stroke-width="1.1"/>
<circle cx="161.34" cy="544.49" r="6.05" fill="#ff0000" fill-opacity="0.12" stroke="#ff0000" stroke-opacity="0.12" stroke-width="1.1"/>
<circle cx="155.75" cy="537.5" r="6.05" fill="#ff0000" fill-opacity="0.5" stroke="#ff0000" stroke-opacity="0.5" stroke-width="1.1"/>
<circle cx="155.39" cy="536.99" r="6.05" fill="#ff0000" fill-opacity="0.5" stroke="#ff0000" stroke-opacity="0.5" stroke-width="1.1"/>
<circle cx="154.14" cy="535.18" r="6.05" fill="#ff0000" fill-opacity="0.4" stroke="#ff0000" stroke-opacity="0.4" stroke-width="1.1"/>
<circle cx="156.87" cy="539.01" r="6.05" fill="#ff0000" fill-opacity="0.3" stroke="#ff0000" stroke-opacity="0.3" stroke-width="1.1"/>
<circle cx="151.52" cy="531.07" r="6.05" fill="#ff0000" fill-opacity="0.3" stroke="#ff0000" stroke-opacity="0.3" stroke-width="1.1"/>
<circle cx="148.42" cy="525.43" r="6.05" fill="#ff0000" fill-opacity="0.22" stroke="#ff0000" stroke-opacity="0.22" stroke-width="1.1"/>
<circle cx="146.15" cy="520.59" r="6.05" fill="#ff0000" fill-opacity="0.1" stroke="#ff0000" stroke-opacity="0.1" stroke-width="1.1"/>
<circle cx="150.03" cy="528.48" r="6.05" fill="#ff0000" fill-opacity="0.12" stroke="#ff0000" stroke-opacity="0.12" stroke-width="1.1"/>
<circle cx="141.31" cy="506.17" r="6.05" fill="#ff0000" fill-opacity="0.35" stroke="#ff0000" stroke-opacity="0.35" stroke-width="1.1"/>
<circle cx="141.06" cy="505.1" r="6.05" fill="#ff0000" fill-opacity="0.32" stroke="#ff0000" stroke-opacity="0.32" stroke-width="1.1"/>
<circle cx="139.08" cy="492.54" r="6.05" fill="#ff0000" fill-opacity="0.45" stroke="#ff0000" stroke-opacity="0.45" stroke-width="1.1"/>
<circle cx="139.05" cy="492.22" r="6.05" fill="#ff0000" fill-opacity="0.45" stroke="#ff0000" stroke-opacity="0.45" stroke-width="1.1"/>
<circle cx="138.76" cy="483.59" r="6.05" fill="#ff0000" fill-opacity="0.14" stroke="#ff0000" stroke-opacity="0.14" stroke-width="1.1"/>
<circle cx="138.87" cy="480.14" r="6.05" fill="#ff0000" fill-opacity="0.1" stroke="#ff0000" stroke-opacity="0.1" stroke-width="1.1"/>
<circle cx="139.13" cy="476.54" r="6.05" fill="#ff0000" fill-opacity="0.14" stroke="#ff0000" stroke-opacity="0.14" stroke-width="1.1"/>
<circle cx="139.76" cy="471.39" r="6.05" fill="#ff0000" fill-opacity="0.14" stroke="#ff0000" stroke-opacity="0.14" stroke-width="1.1"/>
<circle cx="140.12" cy="469.22" r="6.05" fill="#ff0000" fill-opacity="0.1" stroke="#ff0000" stroke-opacity="0.1" stroke-width="1.1"/>
<circle cx="140.72" cy="466.14" r="6.05" fill="#ff0000" fill-opacity="0.1" stroke="#ff0000" stroke-opacity="0.1" stroke-width="1.1"/>
<circle cx="142.15" cy="460.34" r="6.05" fill="#ff0000" fill-opacity="0.2" stroke="#ff0000" stroke-opacity="0.2" stroke-width="1.1"/>
<circle cx="142.59" cy="458.84" r="6.05" fill="#ff0000" fill-opacity="0.16" stroke="#ff0000" stroke-opacity="0.16" stroke-width="1.1"/>
<circle cx="148.49" cy="444.13" r="6.05" fill="#ff0000" fill-opacity="0.42" stroke="#ff0000" stroke-opacity="0.42" stroke-width="1.1"/>
<circle cx="155.94" cy="431.95" r="6.05" fill="#ff0000" fill-opacity="0.22" stroke="#ff0000" stroke-opacity="0.22" stroke-width="1.1"/>
<circle cx="158.61" cy="428.46" r="6.05" fill="#ff0000" fill-opacity="0.25" stroke="#ff0000" stroke-opacity="0.25" stroke-width="1.1"/>
<circle cx="163.79" cy="422.56" r="6.05" fill="#ff0000" fill-opacity="0.55" stroke="#ff0000" stroke-opacity="0.55" stroke-width="1.1"/>
<circle cx="163.36" cy="423.01" r="6.05" fill="#ff0000" fill-opacity="0.5" stroke="#ff0000" stroke-opacity="0.5" stroke-width="1.1"/>
<circle cx="165.56" cy="420.77" r="6.05" fill="#ff0000" fill-opacity="0.3" stroke="#ff0000" stroke-opacity="0.3" stroke-width="1.1"/>
<circle cx="162.4" cy="424.05" r="6.05" fill="#ff0000" fill-opacity="0.3" stroke="#ff0000" stroke-opacity="0.3" stroke-width="1.1"/>
<circle cx="179.73" cy="409.37" r="6.05" fill="#ff0000" fill-opacity="0.2" stroke="#ff0000" stroke-opacity="0.2" stroke-width="1.1"/>
<circle cx="181.46" cy="408.28" r="6.05" fill="#ff0000" fill-opacity="0.22" stroke="#ff0000" stroke-opacity="0.22" stroke-width="1.1"/>
<circle cx="183.07" cy="407.3" r="6.05" fill="#ff0000" fill-opacity="0.2" stroke="#ff0000" stroke-opacity="0.2" stroke-width="1.1"/>
<circle cx="185.12" cy="406.13" r="6.05" fill="#ff0000" fill-opacity="0.12" stroke="#ff0000" stroke-opacity="0.12" stroke-width="1.1"/>
<circle cx="189.01" cy="404.1" r="6.05" fill="#ff0000" fill-opacity="0.1" stroke="#ff0000" stroke-opacity="0.1" stroke-width="1.1"/>
<circle cx="194.16" cy="401.76" r="6.05" fill="#ff0000" fill-opacity="0.1" stroke="#ff0000" stroke-opacity="0.1" stroke-width="1.1"/>
<circle cx="191.57" cy="402.89" r="6.05" fill="#ff0000" fill-opacity="0.08" stroke="#ff0000" stroke-opacity="0.08" stroke-width="1.1"/>
<circle cx="204.55" cy="398.17" r="6.05" fill="#ff0000" fill-opacity="0.4" stroke="#ff0000" stroke-opacity="0.4" stroke-width="1.1"/>
<circle cx="206.06" cy="397.76" r="6.05" fill="#ff0000" fill-opacity="0.3" stroke="#ff0000" stroke-opacity="0.3" stroke-width="1.1"/>
<circle cx="210.04" cy="396.82" r="6.05" fill="#ff0000" fill-opacity="0.4" stroke="#ff0000" stroke-opacity="0.4" stroke-width="1.1"/>
<circle cx="211.58" cy="396.5" r="6.05" fill="#ff0000" fill-opacity="0.4" stroke="#ff0000" stroke-opacity="0.4" stroke-width="1.1"/>
<circle cx="213.12" cy="396.22" r="6.05" fill="#ff0000" fill-opacity="0.4" stroke="#ff0000" stroke-opacity="0.4" stroke-width="1.1"/>
<circle cx="214.67" cy="395.96" r="6.05" fill="#ff0000" fill-opacity="0.4" stroke="#ff0000" stroke-opacity="0.4" stroke-width="1.1"/>
<circle cx="216.22" cy="395.73" r="6.05" fill="#ff0000" fill-opacity="0.4" stroke="#ff0000" stroke-opacity="0.4" stroke-width="1.1"/>
<circle cx="217.78" cy="395.52" r="6.05" fill="#ff0000" fill-opacity="0.4" stroke="#ff0000" stroke-opacity="0.4" stroke-width="1.1"/>
<circle cx="219.34" cy="395.34" r="6.05" fill="#ff0000" fill-opacity="0.4" stroke="#ff0000" stroke-opacity="0.4" stroke-width="1.1"/>
<circle cx="220.91" cy="395.19" r="6.05" fill="#ff0000" fill-opacity="0.4" stroke="#ff0000" stroke-opacity="0.4" stroke-width="1.1"/>
<circle cx="222.47" cy="395.07" r="6.05" fill="#ff0000" fill-opacity="0.4" stroke="#ff0000" stroke-opacity="0.4" stroke-width="1.1"/>
<circle cx="224.04" cy="394.97" r="6.05" fill="#ff0000" fill-opacity="0.4" stroke="#ff0000" stroke-opacity="0.4" stroke-width="1.1"/>
<circle cx="225.61" cy="394.9" r="6.05" fill="#ff0000" fill-opacity="0.4" stroke="#ff0000" stroke-opacity="0.4" stroke-width="1.1"/>
<circle cx="227.18" cy="394.86" r="6.05" fill="#ff0000" fill-opacity="0.4" stroke="#ff0000" stroke-opacity="0.4" stroke-width="1.1"/>
<circle cx="228.75" cy="394.85" r="6.05" fill="#ff0000" fill-opacity="0.4" stroke="#ff0000" stroke-opacity="0.4" stroke-width="1.1"/>
<circle cx="230.32" cy="394.86" r="6.05" fill="#ff0000" fill-opacity="0.4" stroke="#ff0000" stroke-opacity="0.4" stroke-width="1.1"/>
<circle cx="231.89" cy="394.9" r="6.05" fill="#ff0000" fill-opacity="0.4" stroke="#ff0000" stroke-opacity="0.4" stroke-width="1.1"/>
<circle cx="233.46" cy="394.97" r="6.05" fill="#ff0000" fill-opacity="0.4" stroke="#ff0000" stroke-opacity="0.4" stroke-width="1.1"/>
<circle cx="235.03" cy="395.07" r="6.05" fill="#ff0000" fill-opacity="0.4" stroke="#ff0000" stroke-opacity="0.4" stroke-width="1.1"/>
<circle cx="236.59" cy="395.19" r="6.05" fill="#ff0000" fill-opacity="0.35" stroke="#ff0000" stroke-opacity="0.35" stroke-width="1.1"/>
<circle cx="239.72" cy="395.52" r="6.05" fill="#ff0000" fill-opacity="0.14" stroke="#ff0000" stroke-opacity="0.14" stroke-width="1.1"/>
<circle cx="242.05" cy="395.84" r="6.05" fill="#ff0000" fill-opacity="0.12" stroke="#ff0000" stroke-opacity="0.12" stroke-width="1.1"/>
<circle cx="246.85" cy="396.69" r="6.05" fill="#ff0000" fill-opacity="0.5" stroke="#ff0000" stroke-opacity="0.5" stroke-width="1.1"/>
<circle cx="248.69" cy="397.09" r="6.05" fill="#ff0000" fill-opacity="0.45" stroke="#ff0000" stroke-opacity="0.45" stroke-width="1.1"/>
<circle cx="250.52" cy="397.52" r="6.05" fill="#ff0000" fill-opacity="0.4" stroke="#ff0000" stroke-opacity="0.4" stroke-width="1.1"/>
<circle cx="254.01" cy="398.47" r="6.05" fill="#ff0000" fill-opacity="0.45" stroke="#ff0000" stroke-opacity="0.45" stroke-width="1.1"/>
<circle cx="255.96" cy="399.06" r="6.05" fill="#ff0000" fill-opacity="0.35" stroke="#ff0000" stroke-opacity="0.35" stroke-width="1.1"/>
<circle cx="258.2" cy="399.8" r="6.05" fill="#ff0000" fill-opacity="0.4" stroke="#ff0000" stroke-opacity="0.4" stroke-width="1.1"/>
<circle cx="263.77" cy="401.94" r="6.05" fill="#ff0000" fill-opacity="0.12" stroke="#ff0000" stroke-opacity="0.12" stroke-width="1.1"/>
<circle cx="266.07" cy="402.95" r="6.05" fill="#ff0000" fill-opacity="0.1" stroke="#ff0000" stroke-opacity="0.1" stroke-width="1.1"/>
<circle cx="272.52" cy="406.21" r="6.05" fill="#ff0000" fill-opacity="0.4" stroke="#ff0000" stroke-opacity="0.4" stroke-width="1.1"/>
<circle cx="273.75" cy="406.91" r="6.05" fill="#ff0000" fill-opacity="0.3" stroke="#ff0000" stroke-opacity="0.3" stroke-width="1.1"/>
<circle cx="275.77" cy="408.11" r="6.05" fill="#ff0000" fill-opacity="0.4" stroke="#ff0000" stroke-opacity="0.4" stroke-width="1.1"/>
<circle cx="285.39" cy="414.91" r="6.05" fill="#ff0000" fill-opacity="0.42" stroke="#ff0000" stroke-opacity="0.42" stroke-width="1.1"/>
<circle cx="295" cy="423.93" r="6.05" fill="#ff0000" fill-opacity="0.3" stroke="#ff0000" stroke-opacity="0.3" stroke-width="1.1"/>
<circle cx="296.16" cy="425.21" r="6.05" fill="#ff0000" fill-opacity="0.12" stroke="#ff0000" stroke-opacity="0.12" stroke-width="1.1"/>
<circle cx="298.99" cy="428.58" r="6.05" fill="#ff0000" fill-opacity="0.14" stroke="#ff0000" stroke-opacity="0.14" stroke-width="1.1"/>
<circle cx="302.2" cy="432.84" r="6.05" fill="#ff0000" fill-opacity="0.1" stroke="#ff0000" stroke-opacity="0.1" stroke-width="1.1"/>
</g>
<g id="panel-d">
<circle cx="600.75" cy="484.85" r="90.0" fill="none" stroke="#000" stroke-width="1.35"/>
<text transform="translate(700.69 494.89) scale(1.0551 1.0272)" font-size="30">0</text>
<text transform="translate(483.74 491.22) scale(1.0354 0.9253)" font-size="30" font-style="italic">π</text>
<text transform="translate(593.97 361.6) scale(0.8360 0.6833)" font-size="30" font-style="italic">π</text>
<line x1="593.2" y1="365.9" x2="607.9" y2="365.9" stroke="#000" stroke-width="1.3" />
<text transform="translate(594.79 383.5) scale(0.7801 0.6398)" font-size="30">2</text>
<text transform="translate(587.37 596.91) scale(0.8468 0.6352)" font-size="30">3</text>
<text transform="translate(600.48 596.72) scale(0.7781 0.6121)" font-size="30" font-style="italic">π</text>
<line x1="587.2" y1="601.9" x2="613.8" y2="601.9" stroke="#000" stroke-width="1.3" />
<text transform="translate(594.89 620.2) scale(0.7801 0.6448)" font-size="30">2</text>
<text transform="translate(482.65 378.4) scale(1.1221 0.9858)" font-size="30" font-weight="bold">d</text>
<circle cx="600.6" cy="574.75" r="6.6" fill="#0000ff"/>
</g>
</svg>
</body></html>
